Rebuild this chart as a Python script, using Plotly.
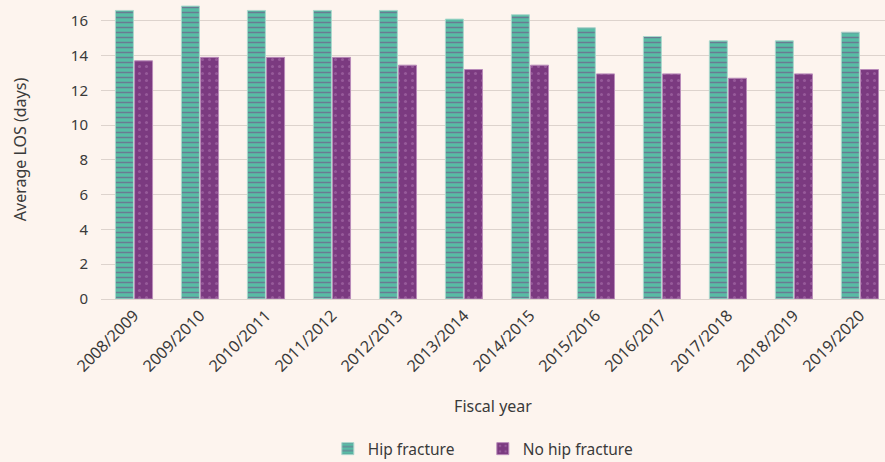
import plotly.graph_objects as go

years = ["2008/2009", "2009/2010", "2010/2011", "2011/2012", "2012/2013", "2013/2014",
         "2014/2015", "2015/2016", "2016/2017", "2017/2018", "2018/2019", "2019/2020"]
hip = [16.6, 16.85, 16.6, 16.6, 16.6, 16.1, 16.35, 15.6, 15.1, 14.85, 14.85, 15.35]
no_hip = [13.7, 13.9, 13.9, 13.9, 13.45, 13.2, 13.45, 12.95, 12.95, 12.7, 12.95, 13.2]

bg = "#fdf4ee"
txt = "#3a3a3a"
font = "Noto Sans"

fig = go.Figure()
fig.add_trace(go.Bar(
    x=years, y=hip, name="Hip fracture",
    marker=dict(color="#58bca5", line=dict(color="#a9d8cc", width=1),
                pattern=dict(shape="-", fgcolor="#7a3a82", bgcolor="#58bca5",
                             size=5, solidity=0.3)),
))
fig.add_trace(go.Bar(
    x=years, y=no_hip, name="No hip fracture",
    marker=dict(color="#7b3a80", line=dict(color="#b98bb9", width=1),
                pattern=dict(shape=".", fgcolor="#b279b4", bgcolor="#7b3a80",
                             size=7, solidity=0.15)),
))

fig.update_layout(
    width=885, height=462,
    paper_bgcolor=bg, plot_bgcolor=bg,
    margin=dict(l=101, r=0, t=0, b=163, autoexpand=False),
    font=dict(family=font, color=txt, size=15),
    barmode="group", bargap=0.42, bargroupgap=0.06,
    legend=dict(orientation="h", x=0.487, xanchor="center", y=-0.445, yanchor="top",
                font=dict(size=15.5), entrywidth=110, traceorder="normal"),
    xaxis=dict(
        tickangle=-45, range=[-0.5, 11.38], automargin=False,
        title=dict(text="Fiscal year", font=dict(size=16), standoff=25),
        showgrid=False, showline=True, linecolor="#ddd3cd", linewidth=1,
        ticks="", tickfont=dict(size=16),
    ),
    yaxis=dict(
        range=[0, 17.2], dtick=2, tick0=0, automargin=False,
        title=dict(text="Average LOS (days)", font=dict(size=16), standoff=40),
        showgrid=True, gridcolor="#ddd3cd", gridwidth=1, ticklabelstandoff=12,
        zeroline=False, ticks="", tickfont=dict(size=15),
    ),
)

fig.write_html("out.html", config={"displayModeBar": False},
               post_script="document.body.style.margin='0';document.body.style.background='" + bg + "';")
